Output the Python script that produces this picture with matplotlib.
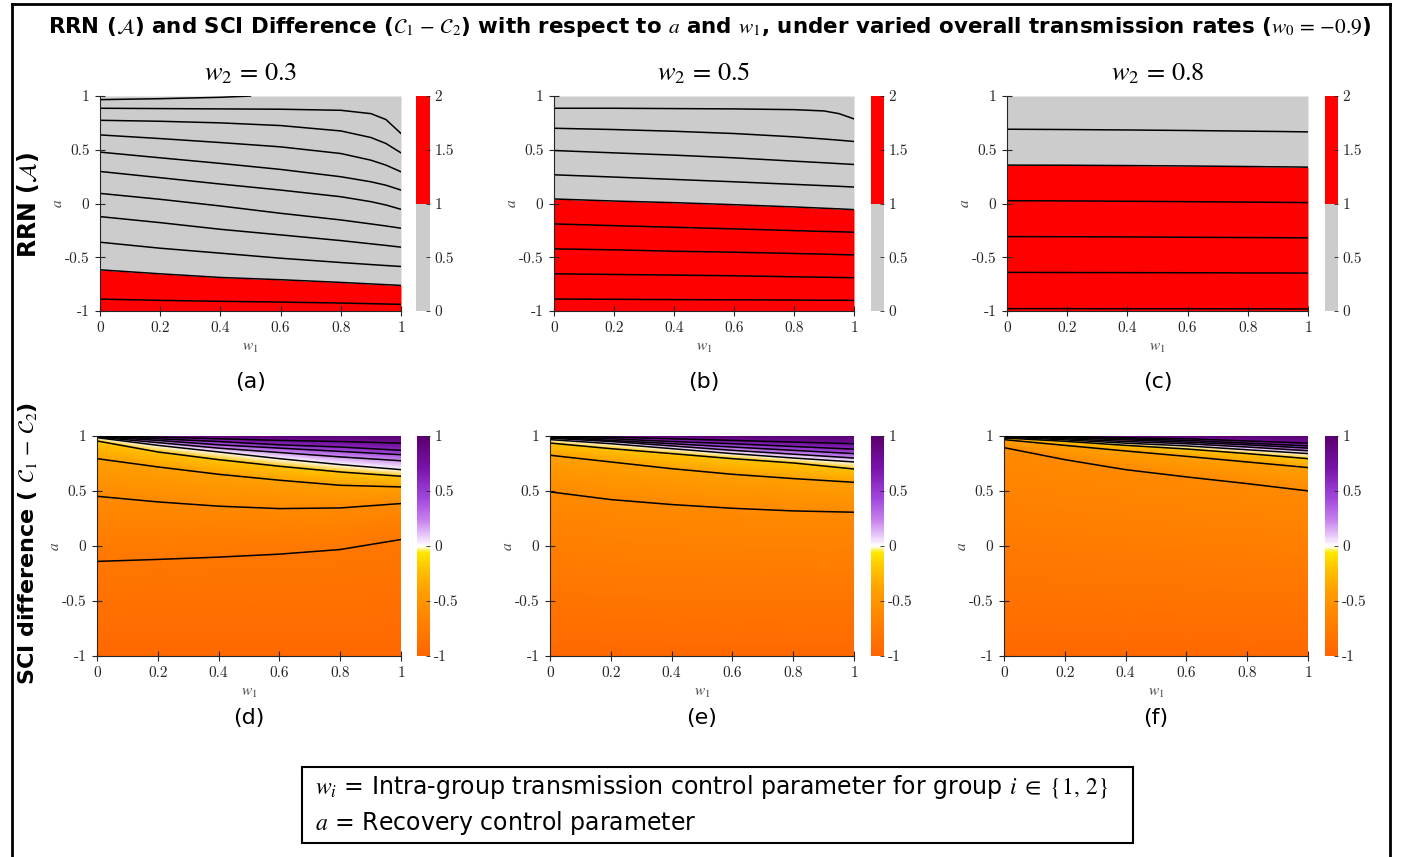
import numpy as np
import matplotlib
matplotlib.use("Agg")
import matplotlib.pyplot as plt
from matplotlib.colors import ListedColormap, BoundaryNorm, LinearSegmentedColormap, Normalize
from matplotlib.cm import ScalarMappable
from matplotlib.patches import Rectangle
from matplotlib.lines import Line2D

plt.rcParams['mathtext.fontset'] = 'stix'
plt.rcParams['font.family'] = ['Liberation Sans', 'DejaVu Sans']
plt.rcParams['axes.unicode_minus'] = False

# ---- data ----
w2_values = ["0.3", "0.5", "0.8"]
top_labels = ["(a)", "(b)", "(c)"]
bottom_labels = ["(d)", "(e)", "(f)"]

# RRN contour lines: a at each w1 knot
top_w1 = [0, 0.2, 0.4, 0.6, 0.8, 0.9, 0.95, 1.0]
rrn_lines_a = [
    [0.886, 0.883, 0.880, 0.877, 0.867, 0.836, 0.781, 0.651],
    [0.774, 0.765, 0.750, 0.725, 0.675, 0.614, 0.558, 0.471],
    [0.638, 0.604, 0.567, 0.527, 0.465, 0.403, 0.357, 0.295],
    [0.478, 0.425, 0.373, 0.317, 0.249, 0.202, 0.170, 0.125],
    [0.298, 0.240, 0.181, 0.125, 0.063, 0.017, -0.014, -0.054],
    [0.094, 0.039, -0.023, -0.091, -0.153, -0.190, -0.209, -0.230],
    [-0.122, -0.178, -0.240, -0.292, -0.345, -0.375, -0.390, -0.406],
    [-0.360, -0.416, -0.462, -0.509, -0.549, -0.568, -0.577, -0.586],
    [-0.617, -0.654, -0.688, -0.709, -0.734, -0.748, -0.755, -0.762],
    [-0.889, -0.901, -0.910, -0.917, -0.926, -0.932, -0.935, -0.938],
]
rrn_short_w1 = [0, 0.2, 0.4, 0.5]
rrn_short_a = [0.966, 0.975, 0.988, 1.0]
rrn_lines_b = [
    [0.886, 0.886, 0.883, 0.880, 0.873, 0.861, 0.836, 0.787],
    [0.700, 0.688, 0.672, 0.651, 0.620, 0.600, 0.589, 0.577],
    [0.493, 0.471, 0.450, 0.425, 0.394, 0.379, 0.371, 0.363],
    [0.267, 0.246, 0.224, 0.202, 0.178, 0.166, 0.160, 0.153],
    [0.042, 0.023, 0.008, -0.011, -0.032, -0.044, -0.050, -0.057],
    [-0.190, -0.206, -0.221, -0.236, -0.252, -0.260, -0.263, -0.267],
    [-0.422, -0.431, -0.444, -0.453, -0.465, -0.471, -0.475, -0.478],
    [-0.654, -0.660, -0.666, -0.672, -0.682, -0.686, -0.688, -0.691],
    [-0.889, -0.891, -0.894, -0.896, -0.898, -0.900, -0.900, -0.901],
]
rrn_lines_c = [
    [0.691, 0.688, 0.684, 0.679, 0.673, 0.670, 0.668, 0.666],
    [0.357, 0.356, 0.353, 0.349, 0.344, 0.341, 0.340, 0.338],
    [0.026, 0.024, 0.021, 0.017, 0.013, 0.011, 0.010, 0.008],
    [-0.308, -0.309, -0.311, -0.314, -0.317, -0.318, -0.319, -0.320],
    [-0.641, -0.642, -0.643, -0.644, -0.646, -0.646, -0.647, -0.647],
    [-0.978, -0.978, -0.979, -0.979, -0.980, -0.980, -0.981, -0.981],
]
rrn_red_edge = [8, 4, 1]  # line where RRN = 1

# SCI difference contour lines
bot_w1 = [0, 0.2, 0.4, 0.6, 0.8, 1.0]
sci_levels_d = [-0.8, -0.6, -0.4, -0.2, 0.0, 0.2, 0.4, 0.6, 0.8]
sci_lines_d = [
    [-0.140, -0.122, -0.101, -0.074, -0.032, 0.059],
    [0.452, 0.401, 0.362, 0.340, 0.346, 0.386],
    [0.794, 0.719, 0.652, 0.598, 0.552, 0.537],
    [0.955, 0.855, 0.785, 0.725, 0.673, 0.634],
    [0.985, 0.915, 0.855, 0.794, 0.740, 0.694],
    [0.990, 0.940, 0.890, 0.850, 0.810, 0.775],
    [0.995, 0.960, 0.920, 0.890, 0.860, 0.830],
    [1.000, 0.975, 0.950, 0.920, 0.900, 0.870],
    [1.000, 0.990, 0.975, 0.960, 0.950, 0.935],
]
sci_levels_e = [-0.6, -0.4, -0.2, 0.0, 0.2, 0.4, 0.6, 0.8]
sci_lines_e = [
    [0.492, 0.422, 0.377, 0.343, 0.319, 0.307],
    [0.825, 0.764, 0.703, 0.652, 0.613, 0.579],
    [0.936, 0.885, 0.840, 0.794, 0.755, 0.700],
    [0.967, 0.930, 0.885, 0.840, 0.800, 0.764],
    [0.980, 0.950, 0.910, 0.870, 0.835, 0.800],
    [0.990, 0.960, 0.930, 0.900, 0.870, 0.840],
    [0.995, 0.975, 0.950, 0.930, 0.905, 0.880],
    [1.000, 0.990, 0.975, 0.960, 0.945, 0.930],
]
sci_levels_f = [-0.6, -0.4, -0.2, 0.0, 0.2, 0.4, 0.6, 0.8]
sci_lines_f = [
    [0.894, 0.785, 0.694, 0.628, 0.567, 0.501],
    [0.967, 0.915, 0.864, 0.815, 0.764, 0.713],
    [0.982, 0.952, 0.915, 0.882, 0.840, 0.794],
    [0.990, 0.965, 0.935, 0.910, 0.875, 0.840],
    [1.000, 0.975, 0.950, 0.930, 0.900, 0.866],
    [1.000, 0.985, 0.965, 0.945, 0.920, 0.890],
    [1.000, 0.990, 0.975, 0.960, 0.935, 0.910],
    [1.000, 0.995, 0.985, 0.975, 0.955, 0.935],
]
sci_edge_low = -0.95   # value along a = -1
sci_edge_high = 1.0    # value along a = 1

W, H = 1402, 857
fig = plt.figure(figsize=(W / 100, H / 100), dpi=100)


def px_axes(x0, y0, x1, y1):
    return fig.add_axes([x0 / W, 1 - y1 / H, (x1 - x0) / W, (y1 - y0) / H])


tick_font = 'cmr10'
wide_font = ['DejaVu Sans']
ink = '#262626'


def style_axes(ax):
    ax.set_xlim(0, 1)
    ax.set_ylim(-1, 1)
    ax.set_xticks([0, 0.2, 0.4, 0.6, 0.8, 1])
    ax.set_xticklabels(['0', '0.2', '0.4', '0.6', '0.8', '1'], fontfamily=tick_font)
    ax.set_yticks([-1, -0.5, 0, 0.5, 1])
    ax.set_yticklabels(['-1', '-0.5', '0', '0.5', '1'], fontfamily=tick_font)
    ax.tick_params(direction='inout', length=7, width=0.8, labelsize=11,
                   colors=ink, pad=4)
    for s in ['top', 'right']:
        ax.spines[s].set_visible(False)
    for s in ['left', 'bottom']:
        ax.spines[s].set_color(ink)
        ax.spines[s].set_linewidth(0.8)
        ax.spines[s].set_zorder(5)
    ax.set_xlabel(r'$w_1$', fontsize=11, color='#444444', labelpad=4)
    ax.set_ylabel(r'$a$', fontsize=11, color='#444444', labelpad=0)


def style_cbar(cb, ticks, labels):
    cb.outline.set_visible(False)
    cb.set_ticks(ticks)
    cb.set_ticklabels(labels)
    for t in cb.ax.get_yticklabels():
        t.set_fontfamily(tick_font)
    cb.ax.tick_params(direction='in', length=3, width=0.6, labelsize=11,
                      colors=ink, pad=3)


# ---- top row: RRN ----
top_x = [(100, 401, 416, 430), (554, 854, 871, 884), (1007, 1308, 1325, 1338)]
rrn_cmap = ListedColormap(['#cccccc', '#ff0000'])
rrn_norm = BoundaryNorm([0, 1, 2], 2)
for k, lines in enumerate([rrn_lines_a, rrn_lines_b, rrn_lines_c]):
    x0, x1, c0, c1 = top_x[k]
    ax = px_axes(x0, 96, x1, 311)
    edge = lines[rrn_red_edge[k]]
    ax.fill_between(top_w1, -1, edge, color='#ff0000', lw=0)
    ax.fill_between(top_w1, edge, 1, color='#cccccc', lw=0)
    for line in lines:
        ax.plot(top_w1, line, color='k', lw=1.1)
    if k == 0:
        ax.plot(rrn_short_w1, rrn_short_a, color='k', lw=1.1)
    style_axes(ax)
    ax.set_title(r'$w_2\,=\,' + w2_values[k] + '$', fontsize=19, pad=11)
    ax.text(0.5, -0.33, top_labels[k], transform=ax.transAxes, ha='center',
            va='center', fontsize=16, family=wide_font)
    cax = px_axes(c0, 96, c1, 311)
    cb = fig.colorbar(ScalarMappable(norm=rrn_norm, cmap=rrn_cmap), cax=cax)
    style_cbar(cb, [0, 0.5, 1, 1.5, 2], ['0', '0.5', '1', '1.5', '2'])

# ---- bottom row: SCI difference ----
sci_cmap = LinearSegmentedColormap.from_list('sci', [
    (0.00, '#ff6400'), (0.20, '#ff8a00'), (0.30, '#ffa000'),
    (0.40, '#ffc400'), (0.47, '#ffe800'), (0.50, '#ffffff'),
    (0.55, '#e8c6fa'), (0.62, '#c680ec'), (0.72, '#a046dc'),
    (0.86, '#7812a8'), (1.00, '#5a006e')])
sci_norm = Normalize(-1, 1)
bot_x = [(97, 401, 417, 430), (550, 854, 871, 884), (1004, 1308, 1325, 1338)]
for k, (levels, lines) in enumerate([(sci_levels_d, sci_lines_d),
                                     (sci_levels_e, sci_lines_e),
                                     (sci_levels_f, sci_lines_f)]):
    x0, x1, c0, c1 = bot_x[k]
    ax = px_axes(x0, 436, x1, 656)
    n = len(bot_w1)
    Y = np.vstack([np.full(n, -1.0)] + [np.array(l) for l in lines] + [np.full(n, 1.0)])
    X = np.tile(np.array(bot_w1), (Y.shape[0], 1))
    vals = np.array([sci_edge_low] + levels + [sci_edge_high])
    C = np.repeat(vals[:, None], n, axis=1)
    ax.pcolormesh(X, Y, C, shading='gouraud', cmap=sci_cmap, norm=sci_norm)
    for line in lines:
        ax.plot(bot_w1, line, color='k', lw=1.1)
    style_axes(ax)
    ax.text(0.5, -0.28, bottom_labels[k], transform=ax.transAxes, ha='center',
            va='center', fontsize=16, family=wide_font)
    cax = px_axes(c0, 436, c1, 656)
    cb = fig.colorbar(ScalarMappable(norm=sci_norm, cmap=sci_cmap), cax=cax)
    style_cbar(cb, [-1, -0.5, 0, 0.5, 1], ['-1', '-0.5', '0', '0.5', '1'])

# ---- titles, row labels, frame, key ----
fig.text(710 / W, 1 - 27 / H,
         r'RRN ($\mathcal{A}$) and SCI Difference ($\mathcal{C}_1\,-\,\mathcal{C}_2$) '
         r'with respect to $a$ and $w_1$, under varied overall transmission rates '
         r'($w_0\,=\,{-}0.9$)',
         ha='center', va='center', fontsize=15.4, fontweight='bold', family=wide_font)
fig.text(28 / W, 1 - 205 / H, r'RRN ($\mathcal{A}$)', rotation=90,
         ha='center', va='center', fontsize=17, fontweight='bold', family=wide_font)
fig.text(28 / W, 1 - 543 / H, r'SCI difference ( $\mathcal{C}_1\,-\,\mathcal{C}_2$)',
         rotation=90, ha='center', va='center', fontsize=16, fontweight='bold',
         family=wide_font)

for xs, ys in [([12, 12], [4, 857]), ([1390, 1390], [4, 857]), ([12, 1390], [4, 4])]:
    fig.add_artist(Line2D([x / W for x in xs], [1 - y / H for y in ys],
                          color='k', lw=2))

fig.add_artist(Rectangle((302 / W, 1 - 843 / H), (1133 - 302) / W, (843 - 767) / H,
                         transform=fig.transFigure, fill=False, ec='k', lw=1.5))
fig.text(315 / W, 1 - 787 / H,
         r'$w_i$ = Intra-group transmission control parameter for group $i\ \in\ \{1,\,2\}$',
         ha='left', va='center', fontsize=17, family=wide_font)
fig.text(315 / W, 1 - 823 / H, r'$a$ = Recovery control parameter',
         ha='left', va='center', fontsize=17, family=wide_font)

fig.savefig('out.png', dpi=100)
